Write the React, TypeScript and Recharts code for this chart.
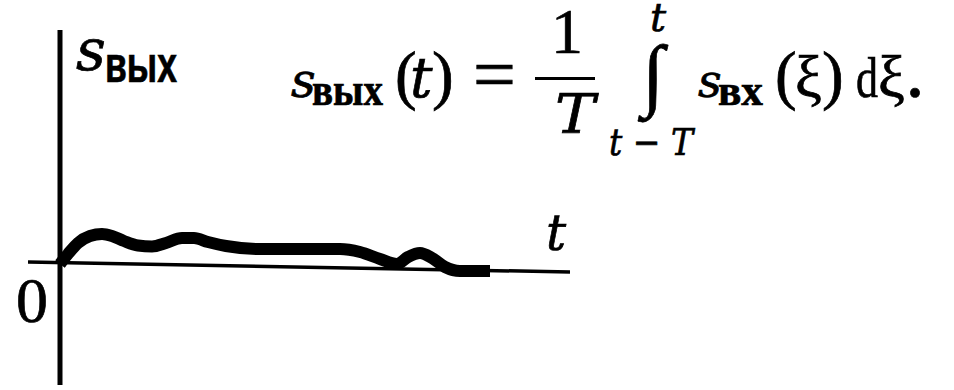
import { LineChart, Line, XAxis, YAxis, ReferenceLine } from "recharts"

// output signal of the moving-average (integrating) filter
const tValues = [0, 0.8, 1.8, 3, 4.2, 5.2, 6.4, 7.8, 9.2, 10.6, 12.2, 13.4, 14.8, 16.6, 20, 24, 28, 30, 32, 33.7, 34.8, 36, 37.2, 38.5, 40, 43]
const sOut = [0, 1.0, 2.1, 2.8, 3.0, 2.8, 2.3, 1.85, 1.75, 2.1, 2.6, 2.6, 2.2, 1.8, 1.5, 1.5, 1.5, 1.2, 0.5, 0, 0.7, 1.1, 0.6, -0.3, -0.7, -0.7]

const tRange = [-3.2, 51]
const sRange = [-12.1, 23.4]
// the t axis is drawn with a slight drop towards its right end
const tAxisLevel = [0.2, -0.8]

const data = tValues.map((t, i) => ({ t, s: sOut[i] }))

type GlyphProps = {
  x: number
  y: number
  size: number
  italic?: boolean
  bold?: boolean
  sans?: boolean
  width?: number
  anchor?: "start" | "middle"
  children: string
}

// one piece of the formula; Liberation Serif has no italic face here, so italics use DejaVu Serif
function G({ x, y, size, italic, bold, sans, width, anchor = "start", children }: GlyphProps) {
  const family = sans ? "Liberation Sans" : italic ? "DejaVu Serif" : "Liberation Serif"
  return (
    <text
      x={x}
      y={y}
      fontSize={size}
      fontFamily={family}
      fontStyle={italic ? "italic" : "normal"}
      fontWeight={bold ? "bold" : "normal"}
      textAnchor={anchor}
      textLength={width}
      lengthAdjust={width ? "spacingAndGlyphs" : undefined}
      fill="#000"
      stroke="#000"
      strokeWidth={0.7}
    >
      {children}
    </text>
  )
}

function Formula() {
  return (
    <svg width={954} height={390} style={{ position: "absolute", left: 0, top: 0, pointerEvents: "none" }}>
      {/* axis labels */}
      <G x={76} y={70} size={58} italic>s</G>
      <G x={105} y={82} size={50} sans bold width={72}>вых</G>
      <G x={546} y={250} size={50} italic>t</G>
      <G x={16} y={322} size={64}>0</G>

      {/* s_вых(t) = 1/T ∫ s_вх(ξ) dξ */}
      <G x={291} y={97} size={48} italic>s</G>
      <G x={312} y={105} size={46} bold width={71}>вых</G>
      <G x={395} y={97} size={65}>(</G>
      <G x={410} y={97} size={56} italic>t</G>
      <G x={432} y={97} size={65}>)</G>
      <G x={473} y={100} size={76}>=</G>
      <G x={567} y={53} size={64} anchor="middle">1</G>
      <rect x={535} y={77} width={60} height={3} fill="#000" />
      <G x={575} y={133} size={54} italic anchor="middle" width={40}>T</G>

      <G x={650} y={31} size={40} italic>t</G>
      <G x={642} y={101} size={80} bold>∫</G>
      <G x={609} y={155} size={38} italic width={84}>t − T</G>

      <G x={698} y={97} size={46} italic>s</G>
      <G x={718} y={105} size={44} bold width={45}>вх</G>
      <G x={775} y={97} size={65}>(</G>
      <G x={795} y={97} size={60}>ξ</G>
      <G x={822} y={97} size={65}>)</G>
      <G x={856} y={97} size={58} width={22}>d</G>
      <G x={878} y={97} size={60}>ξ</G>
      <G x={908} y={97} size={56} bold>.</G>
    </svg>
  )
}

export default function App() {
  return (
    <div style={{ position: "absolute", left: 0, top: 0, width: 954, height: 390, background: "#fff" }}>
      <LineChart width={954} height={390} data={data} margin={{ top: 30, right: 384, bottom: 5, left: 28 }}>
        <XAxis type="number" dataKey="t" domain={tRange} hide allowDataOverflow />
        <YAxis type="number" domain={sRange} hide allowDataOverflow />
        <ReferenceLine x={0} stroke="#000" strokeWidth={5} />
        <ReferenceLine
          segment={[
            { x: tRange[0], y: tAxisLevel[0] },
            { x: tRange[1], y: tAxisLevel[1] },
          ]}
          stroke="#000"
          strokeWidth={3.5}
        />
        <Line
          type="monotone"
          dataKey="s"
          stroke="#000"
          strokeWidth={12}
          strokeLinejoin="round"
          dot={false}
          activeDot={false}
          isAnimationActive={false}
        />
      </LineChart>
      <Formula />
    </div>
  )
}
